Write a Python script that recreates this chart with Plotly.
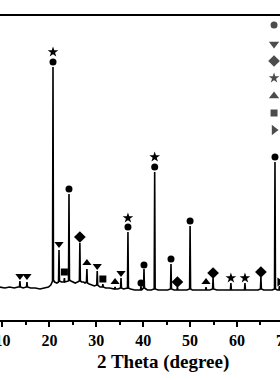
import plotly.graph_objects as go

# ---- XRD pattern (2 theta in degrees, intensity in arbitrary units) ----
two_theta = [9.40, 10.5, 11.5, 12.5, 13.3, 13.62, 13.72, 13.82, 14.4, 15.12, 15.22, 15.32,
             16.0, 17.0, 18.0, 19.0, 19.8, 20.3, 20.55, 20.67, 20.77, 20.87, 21.1, 21.6,
             21.95, 22.05, 22.15, 22.6, 23.1, 23.2, 23.3, 23.8, 24.08, 24.18, 24.28, 24.6,
             25.0, 25.5, 26.0, 26.4, 26.5, 26.6, 26.9, 27.3, 27.6, 27.9, 28.0, 28.1, 28.5,
             29.0, 29.6, 30.1, 30.2, 30.3, 30.8, 31.3, 31.4, 31.5, 32.0, 32.8, 33.5, 33.9,
             34.0, 34.1, 34.6, 35.17, 35.27, 35.37, 35.8, 36.65, 36.75, 36.85, 37.3, 38.2,
             39.0, 39.43, 39.53, 39.63, 39.9, 40.07, 40.17, 40.27, 40.9, 41.7, 42.35, 42.45,
             42.55, 43.2, 44.2, 45.2, 45.83, 45.93, 46.03, 46.6, 47.2, 47.3, 47.4, 48.2,
             49.3, 49.9, 50.0, 50.1, 50.5, 51.5, 52.5, 53.3, 53.4, 53.5, 54.2, 54.8, 54.9,
             55.0, 55.7, 56.8, 57.8, 58.6, 58.7, 58.8, 59.6, 60.6, 61.6, 61.7, 61.8, 62.6,
             63.6, 64.5, 65.0, 65.1, 65.2, 65.7, 66.6, 67.5, 68.0, 68.1, 68.2, 68.6, 68.95,
             69.05, 69.15, 69.3]
intensity = [33, 32, 33, 32, 33, 33, 39, 33, 32, 33, 38, 33,
             32, 32, 31, 32, 33, 35, 37, 39, 253, 40, 38, 37,
             38, 70, 39, 38, 38, 42, 38, 39, 39, 126, 40, 39,
             38, 37, 38, 39, 77, 39, 38, 38, 37, 38, 51, 37, 36,
             35, 34, 35, 49, 35, 33, 33, 36, 33, 32, 32, 31, 31,
             33, 31, 31, 32, 42, 32, 31, 32, 88, 32, 31, 30,
             30, 30, 34, 30, 31, 32, 51, 32, 30, 30, 31, 148,
             31, 30, 30, 30, 31, 56, 31, 30, 30, 33, 30, 30,
             30, 31, 94, 31, 30, 30, 30, 30, 33, 30, 30, 31, 42,
             31, 30, 30, 30, 30, 37, 30, 30, 30, 30, 37, 30, 30,
             30, 30, 31, 43, 31, 30, 30, 30, 31, 158, 31, 30, 30,
             34, 30, 30]

# ---- phase markers: peak position and marker height ----
circle_x = [20.77, 24.18, 36.75, 39.53, 40.17, 42.45, 45.93, 50.0, 68.1]
circle_y = [258, 131, 93, 37, 55, 153, 61, 99, 163]
tri_down_x = [13.72, 15.22, 22.05, 30.2, 35.27]
tri_down_y = [44, 44, 76, 54, 47]
diamond_x = [26.5, 47.3, 54.9, 65.1]
diamond_y = [83, 38, 47, 48]
star_x = [20.77, 36.75, 42.45, 58.7, 61.7]
star_y = [268, 102, 163, 42, 42]
tri_up_x = [28.0, 34.0, 53.4]
tri_up_y = [57, 38, 38]
square_x = [23.2, 31.4]
square_y = [48, 41]
tri_right_x = [69.05]
tri_right_y = [38]

# legend symbols (labels cropped out of view)
legend_x = [67.9] * 7
legend_y = [295, 276, 259, 242, 224, 207, 190]
legend_symbols = ["circle", "triangle-down", "diamond", "star", "triangle-up", "square", "triangle-right"]
legend_sizes = [7, 9, 9, 8, 9, 7, 9]

fig = go.Figure()
fig.add_trace(go.Scatter(x=two_theta, y=intensity, mode="lines",
                         line=dict(color="black", width=1.6), showlegend=False,
                         hoverinfo="skip"))

phase_sets = [
    (circle_x, circle_y, "circle", 7),
    (tri_down_x, tri_down_y, "triangle-down", 8),
    (diamond_x, diamond_y, "diamond", 9),
    (star_x, star_y, "star", 8),
    (tri_up_x, tri_up_y, "triangle-up", 8),
    (square_x, square_y, "square", 7),
    (tri_right_x, tri_right_y, "triangle-right", 8),
]
for xs, ys, sym, sz in phase_sets:
    fig.add_trace(go.Scatter(x=xs, y=ys, mode="markers",
                             marker=dict(symbol=sym, size=sz, color="black", line=dict(width=0)),
                             showlegend=False))

fig.add_trace(go.Scatter(x=legend_x, y=legend_y, mode="markers",
                         marker=dict(symbol=legend_symbols, size=legend_sizes, color="black",
                                     line=dict(width=0)),
                         showlegend=False, cliponaxis=False))

x_lo, x_hi = 9.47, 69.17
fig.update_layout(
    width=280, height=380,
    margin=dict(l=0, r=0, t=16, b=60, autoexpand=False),
    paper_bgcolor="white", plot_bgcolor="white",
    xaxis=dict(range=[x_lo, x_hi], showline=True, linecolor="black", linewidth=2,
               mirror=True, ticks="outside", ticklen=5, tickwidth=1.5, tickcolor="black",
               tick0=10, dtick=10, showgrid=False, zeroline=False, automargin=False,
               ticklabeloverflow="allow",
               tickfont=dict(family="Liberation Serif", size=16, color="black", weight="bold"),
               minor=dict(ticks="outside", ticklen=3, tickwidth=1.5, tickcolor="black", dtick=5,
                          showgrid=False)),
    yaxis=dict(range=[0, 304], visible=False, showgrid=False, zeroline=False, automargin=False),
    annotations=[
        dict(text="2 Theta (degree)", xref="paper", yref="paper", x=163 / 280, y=(320 - 362) / 304,
             showarrow=False, xanchor="center", yanchor="middle",
             font=dict(family="Liberation Serif", size=19, color="black", weight="bold")),
        dict(text="70", xref="paper", yref="paper", x=(70 - x_lo) / (x_hi - x_lo),
             y=(320 - 340) / 304, showarrow=False, xanchor="center", yanchor="middle",
             font=dict(family="Liberation Serif", size=16, color="black", weight="bold")),
    ],
)

fig.write_html("out.html")
